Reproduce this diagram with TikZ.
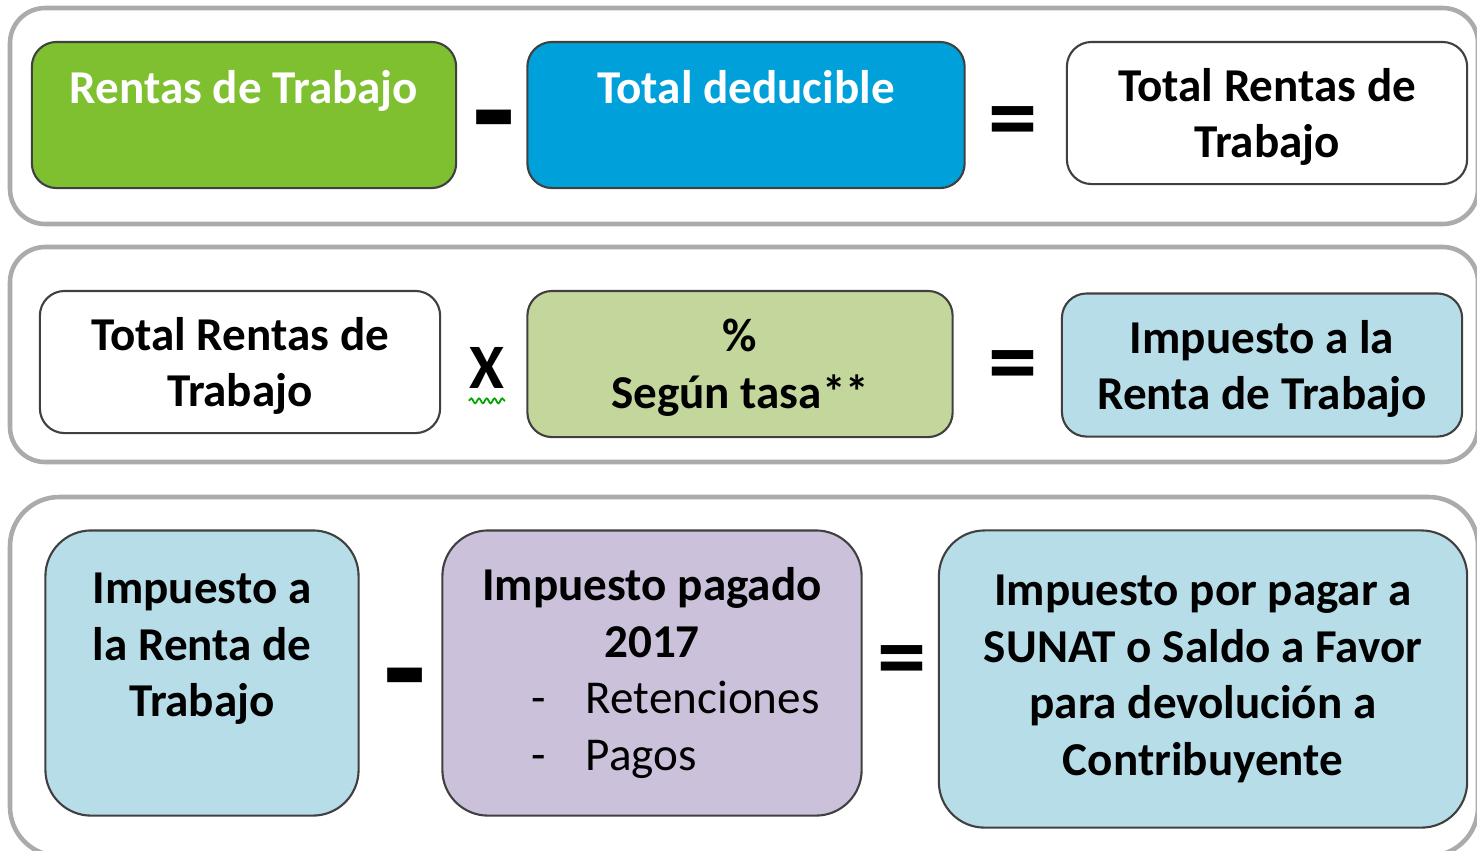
\documentclass[tikz,border=0pt]{standalone}
\usepackage{fontspec}
\setmainfont{Carlito}
\usepackage{tikz}
\usetikzlibrary{positioning}
\usetikzlibrary{decorations.pathmorphing}

\tikzset{
  panel/.style={draw=black!33, line width=1.3pt, rounded corners=10pt},
  caja/.style={draw=black!75, line width=0.6pt, rounded corners=7pt, align=center,
    inner sep=0pt, font=\bfseries\fontsize{13.4}{16.1}\selectfont},
  signo/.style={inner sep=0pt, font=\bfseries\fontsize{#1}{#1}\selectfont},
}

\begin{document}
\begin{tikzpicture}[x=0.01cm, y=-0.01cm]
      \definecolor{verde}{HTML}{7FC031}
      \definecolor{azul}{HTML}{00A0DA}
      \definecolor{oliva}{HTML}{C3D69B}
      \definecolor{celeste}{HTML}{B7DDE8}
      \definecolor{lila}{HTML}{CCC1DA}
      \useasboundingbox (0,0) rectangle (1477,850);
      \clip (0,0) rectangle (1477,850);
      \draw[panel] (10,8) rectangle (1478,224);
      \draw[panel] (10,247) rectangle (1478,462);
      \draw[panel, rounded corners=14pt] (10,497) rectangle (1478,856);

      \node[caja, fill=verde, text=white, minimum width=4.24cm, minimum height=1.46cm] (rentas) at (244,115) {Rentas de Trabajo\\ \mbox{}};
      \node[signo=40] (menos1) at (494,134) {-};
      \node[caja, fill=azul, text=white, minimum width=4.37cm, minimum height=1.46cm] (deducible) at (746,115) {Total deducible\\ \mbox{}};
      \node[signo=28] (igual1) at (1013,129) {=};
      \node[caja, fill=white, text depth=0pt, minimum width=4cm, minimum height=1.42cm] (total1) at (1267,113) {Total Rentas de\\Trabajo};

      \node[caja, fill=white, text depth=0pt, minimum width=4cm, minimum height=1.42cm] (total2) at (240,362) {Total Rentas de\\Trabajo};
      \node[signo=18] (por) at (487,368) {X};
      \draw[green!65!black, line width=0.5pt, decorate, decoration={snake, amplitude=0.7pt, segment length=2.2pt}]
        ([yshift=-3.3pt]por.south west) -- ([yshift=-3.3pt]por.south east);
      \node[caja, fill=oliva, text depth=0pt, minimum width=4.25cm, minimum height=1.46cm] (tasa) at (740,364) {\%\\Según tasa**};
      \node[signo=28] (igual2) at (1013,373) {=};
      \node[caja, fill=celeste, text depth=0pt, minimum width=4cm, minimum height=1.43cm] (impuesto2) at (1262,365) {Impuesto a la\\Renta de Trabajo};

      \node[caja, fill=celeste, rounded corners=13pt, minimum width=3.13cm, minimum height=2.85cm] (impuesto3) at (202,673) {Impuesto a\\la Renta de\\Trabajo\\ \mbox{}};
      \node[signo=40] (menos3) at (405,692) {-};
      \node[caja, fill=lila, rounded corners=13pt, minimum width=4.19cm, minimum height=2.85cm] (pagado) at (652,673) {Impuesto pagado\\2017\\
        \mdseries\makebox[2.4cm][l]{\makebox[0.54cm][l]{-}Retenciones}\\
        \mdseries\makebox[2.4cm][l]{\makebox[0.54cm][l]{-}Pagos}};
      \node[signo=28] (igual3) at (902,667) {=};
      \node[caja, fill=celeste, rounded corners=13pt, minimum width=5.28cm, minimum height=2.97cm] (saldo) at (1203,679) {Impuesto por pagar a\\SUNAT o Saldo a Favor\\para devolución a\\Contribuyente};
\end{tikzpicture}
\end{document}
